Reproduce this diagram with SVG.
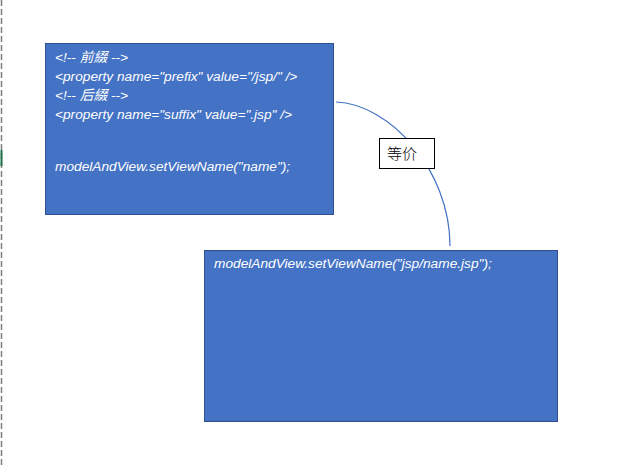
<svg xmlns="http://www.w3.org/2000/svg" width="642" height="465" viewBox="0 0 642 465">
<style>
.box{fill:#4472C4;stroke:#2F528F;stroke-width:1}
.t{font-family:"Liberation Sans","Noto Sans CJK TC",sans-serif;font-style:italic;font-size:13.7px;fill:#FFFFFF}
.lbl{font-family:"Noto Sans CJK SC","Liberation Sans",sans-serif;font-size:15px;font-weight:300;fill:#000}
.conn{fill:none;stroke:#4472C4;stroke-width:1.2}
</style>
<rect width="642" height="465" fill="#FFFFFF"/>
<line x1="1.5" y1="0" x2="1.5" y2="465" stroke="#7F7F7F" stroke-width="1.5" stroke-dasharray="6,3"/>
<line x1="1.5" y1="150" x2="1.5" y2="166" stroke="#217346" stroke-width="2"/>
<g id="connectors">
<path class="conn" d="M336,102 C390,104 450,170 450,246"/>
</g>
<g id="node-config">
<rect class="box" x="45.5" y="43.5" width="288" height="171"/>
<text class="t" x="55" y="62">&lt;!-- 前綴 --&gt;</text>
<text class="t" x="55" y="81">&lt;property name="prefix" value="/jsp/" /&gt;</text>
<text class="t" x="55" y="100">&lt;!-- 后綴 --&gt;</text>
<text class="t" x="55" y="119">&lt;property name="suffix" value=".jsp" /&gt;</text>
<text class="t" x="55" y="171">modelAndView.setViewName("name");</text>
</g>
<g id="node-result">
<rect class="box" x="204.5" y="250.5" width="353" height="171"/>
<text class="t" x="214" y="268">modelAndView.setViewName("jsp/name.jsp");</text>
</g>
<g id="label-equiv">
<rect x="379.5" y="138.5" width="55" height="30" fill="#FFFFFF" stroke="#000" stroke-width="1"/>
<text class="lbl" x="387" y="159">等价</text>
</g>
</svg>
